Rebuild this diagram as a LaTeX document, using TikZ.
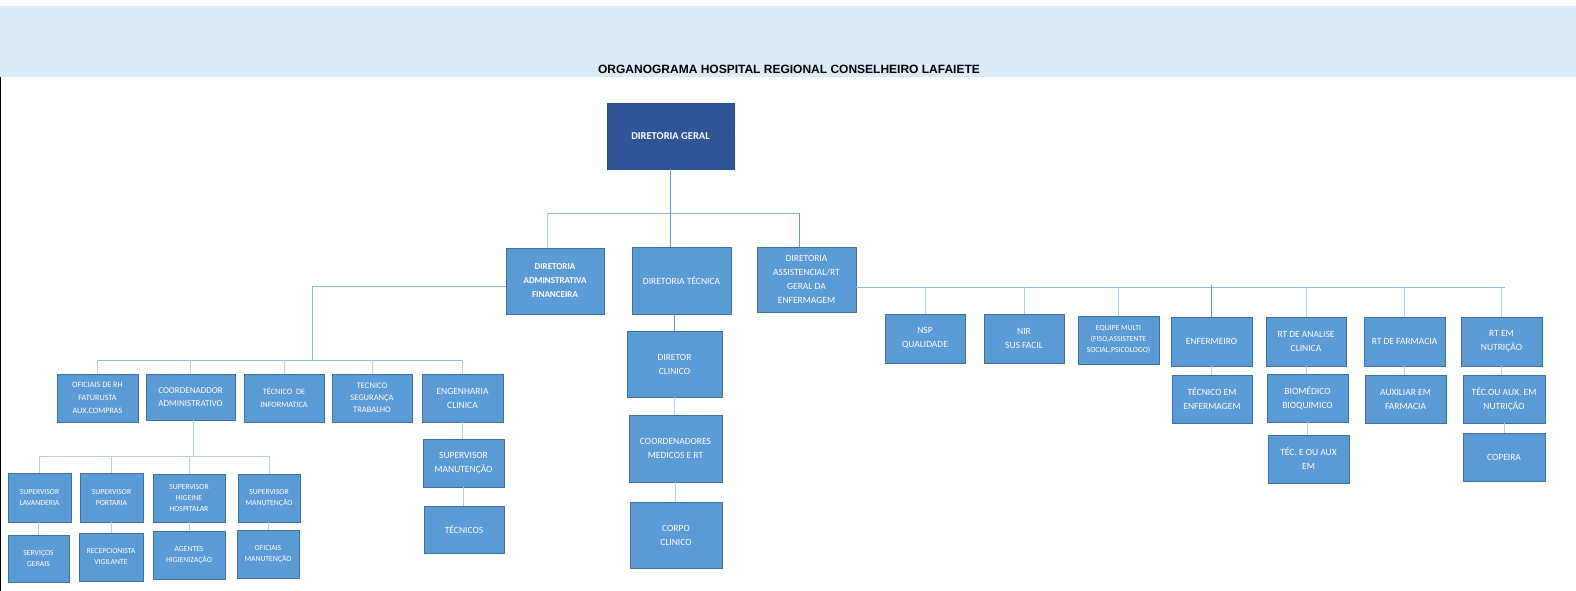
\documentclass[tikz,border=0pt]{standalone}
\usepackage{fontspec}
\setmainfont{Carlito}
\newfontfamily\arialfont{Liberation Sans}
\definecolor{caixaazul}{HTML}{5B9BD5}
\definecolor{bordaazul}{HTML}{41719C}
\definecolor{geralazul}{HTML}{2F5597}
\definecolor{geralborda}{HTML}{2E4D85}
\definecolor{faixaazul}{HTML}{DDEBF7}
\definecolor{linhaescura}{HTML}{5B9BD5}
\definecolor{linhamedia}{HTML}{8DB6E3}
\definecolor{linhaclara}{HTML}{B4D0EE}

\begin{document}
\begin{tikzpicture}[x=1pt,y=-1pt,
  caixa/.style={draw=bordaazul, fill=caixaazul, line width=0.9pt, text=white,
    align=center, inner sep=1pt, font=\fontsize{8.2}{13}\selectfont},
  grande/.style={font=\fontsize{9.5}{14}\selectfont},
  pequena/.style={font=\fontsize{7.7}{11}\selectfont},
  liga/.style={draw=linhaescura, line width=0.9pt},
  ligamedia/.style={draw=linhamedia, line width=0.9pt},
  ligafina/.style={draw=linhaclara, line width=0.9pt}]
\useasboundingbox (0,0) rectangle (1576,591);
\fill[faixaazul] (0,6) rectangle (1576,77);
\draw[black, line width=1.2pt] (0.6,77) -- (0.6,591);
\node[font=\arialfont\bfseries\fontsize{12}{14}\selectfont] (titulo) at (789,69.5)
  {ORGANOGRAMA HOSPITAL REGIONAL CONSELHEIRO LAFAIETE};

% diretorias
\node[caixa, fill=geralazul, draw=geralborda, minimum width=127pt, minimum height=66pt,
  font=\bfseries\fontsize{10.5}{12}\selectfont] (dg) at (670.5,136) {DIRETORIA GERAL};
\node[caixa, minimum width=98pt, minimum height=66pt,
  font=\bfseries\fontsize{9}{14}\selectfont] (adm) at (555,281) {DIRETORIA\\ADMINSTRATIVA\\FINANCEIRA};
\node[caixa, grande, minimum width=99pt, minimum height=67pt] (dt) at (681.5,280.5) {DIRETORIA T\'ECNICA};
\node[caixa, grande, minimum width=99pt, minimum height=65pt] (ass) at (806.5,279.5)
  {DIRETORIA\\ASSISTENCIAL/RT\\GERAL DA\\ENFERMAGEM};

% lado administrativo
\node[caixa, minimum width=81pt, minimum height=48pt] (ofic) at (97.5,398) {OFICIAIS DE RH\\FATURUSTA\\AUX.COMPRAS};
\node[caixa, font=\fontsize{9}{13}\selectfont, minimum width=89pt, minimum height=46pt] (coord) at (190.5,397) {COORDENADDOR\\ADMINISTRATIVO};
\node[caixa, minimum width=80pt, minimum height=48pt] (tinf) at (284,398) {T\'ECNICO~~DE\\INFORMATICA};
\node[caixa, font=\fontsize{8.5}{12}\selectfont, minimum width=80pt, minimum height=48pt] (tseg) at (372,398) {TECNICO\\SEGURAN\c{C}A\\TRABALHO};
\node[caixa, grande, minimum width=81pt, minimum height=48pt] (eng) at (462.5,398) {ENGENHARIA\\CLINICA};

\node[caixa, pequena, minimum width=63pt, minimum height=49pt] (slav) at (39.5,497.5) {SUPERVISOR\\LAVANDERIA};
\node[caixa, pequena, minimum width=63pt, minimum height=49pt] (sport) at (111.5,497.5) {SUPERVISOR\\PORTARIA};
\node[caixa, pequena, minimum width=72pt, minimum height=48pt] (shig) at (189,498) {SUPERVISOR\\HIGEINE\\HOSPITALAR};
\node[caixa, pequena, minimum width=62pt, minimum height=48pt] (sman) at (269,498) {SUPERVISOR\\MANUTEN\c{C}\~AO};

\node[caixa, pequena, minimum width=61pt, minimum height=47pt] (serv) at (38.5,558.5) {SERVI\c{C}OS\\GERAIS};
\node[caixa, pequena, minimum width=64pt, minimum height=48pt] (recep) at (111,557) {RECEPCIONISTA\\VIGILANTE};
\node[caixa, pequena, minimum width=72pt, minimum height=48pt] (agen) at (189,555) {AGENTES\\HIGIENIZA\c{C}\~AO};
\node[caixa, pequena, minimum width=62pt, minimum height=48pt] (ofman) at (268,554) {OFICIAIS\\MANUTEN\c{C}\~AO};

\node[caixa, grande, minimum width=81pt, minimum height=48pt] (supman) at (463.5,463) {SUPERVISOR\\MANUTEN\c{C}\~AO};
\node[caixa, grande, minimum width=80pt, minimum height=47pt] (tecn) at (464,529.5) {T\'ECNICOS};

% lado tecnico
\node[caixa, grande, minimum width=95pt, minimum height=66pt] (dc) at (674.5,364) {DIRETOR\\CLINICO};
\node[caixa, grande, minimum width=93pt, minimum height=67pt] (cmed) at (675.5,448.5) {COORDENADORES\\MEDICOS E RT};
\node[caixa, grande, minimum width=92pt, minimum height=66pt] (corpo) at (676,535) {CORPO\\CLINICO};

% lado assistencial
\node[caixa, grande, minimum width=80pt, minimum height=49pt] (nsp) at (925,338.5) {NSP\\QUALIDADE};
\node[caixa, grande, minimum width=80pt, minimum height=49pt] (nir) at (1024,338.5) {NIR\\SUS FACIL};
\node[caixa, pequena, minimum width=81pt, minimum height=48pt] (equipe) at (1118.5,340) {EQUIPE MULTI\\(FISO,ASSISTENTE\\SOCIAL,PSICOLOGO)};
\node[caixa, grande, minimum width=81pt, minimum height=49pt] (enf) at (1211.5,341.5) {ENFERMEIRO};
\node[caixa, grande, minimum width=80pt, minimum height=49pt] (rtan) at (1306,341.5) {RT DE ANALISE\\CLINICA};
\node[caixa, grande, minimum width=81pt, minimum height=49pt] (rtfar) at (1404.5,341.5) {RT DE FARMACIA};
\node[caixa, grande, minimum width=81pt, minimum height=49pt] (rtnut) at (1501.5,341.5) {RT EM\\NUTRI\c{C}\~AO};

\node[caixa, grande, minimum width=80pt, minimum height=48pt] (tenf) at (1212,399) {T\'ECNICO EM\\ENFERMAGEM};
\node[caixa, grande, minimum width=81pt, minimum height=48pt] (biom) at (1307.5,398) {BIOM\'EDICO\\BIOQUIMICO};
\node[caixa, grande, minimum width=81pt, minimum height=48pt] (auxf) at (1405.5,399) {AUXILIAR EM\\FARMACIA};
\node[caixa, grande, minimum width=82pt, minimum height=48pt] (tnut) at (1504,399) {T\'EC.OU AUX. EM\\NUTRI\c{C}\~AO};
\node[caixa, grande, minimum width=81pt, minimum height=48pt] (tecaux) at (1308.5,459) {T\'EC. E OU AUX\\EM};
\node[caixa, grande, minimum width=82pt, minimum height=48pt] (cope) at (1504,457) {COPEIRA};

% ligacoes da diretoria geral
\coordinate (barraA) at (547,213);
\coordinate (barraB) at (799,213);
\draw[liga] (dg.south) -- (dg.south |- dt.north);
\draw[ligamedia] (barraA) -- (barraB);
\draw[ligafina] (barraA) -- (barraA |- adm.north);
\draw[liga] (barraB) -- (barraB |- ass.north);

% administrativo
\coordinate (barraC) at (312,360);
\draw[ligamedia] ([yshift=-5pt]adm.west) -| (barraC);
\draw[ligamedia] (ofic.north |- barraC) -- (eng.north |- barraC);
\foreach \n in {ofic,coord,tinf,tseg,eng}
  \draw[ligafina] (\n.north |- barraC) -- (\n.north);
\coordinate (barraD) at (193,456);
\draw[ligafina] (coord.south -| barraD) -- (barraD);
\draw[ligafina] (slav.north |- barraD) -- (sman.north |- barraD);
\foreach \n in {slav,sport,shig,sman}
  \draw[ligafina] (\n.north |- barraD) -- (\n.north);
\draw[ligafina] (slav.south -| serv.north) -- (serv.north);
\draw[ligafina] (recep.north |- sport.south) -- (recep.north);
\draw[ligafina] (shig.south) -- (agen.north);
\draw[ligafina] (ofman.north |- sman.south) -- (ofman.north);
\draw[ligafina] (eng.south) -- (eng.south |- supman.north);
\draw[ligafina] (supman.south) -- (supman.south |- tecn.north);

% tecnico
\draw[liga] (dc.north |- dt.south) -- (dc.north);
\draw[ligafina] (dc.south) -- (dc.south |- cmed.north);
\draw[ligafina] (cmed.south) -- (cmed.south |- corpo.north);

% assistencial
\coordinate (barraE) at (1505,287);
\draw[ligamedia] (ass.east |- barraE) -- (barraE);
\foreach \n in {nsp,nir,equipe,rtan,rtfar,rtnut}
  \draw[ligafina] (\n.north |- barraE) -- (\n.north);
\draw[liga] ([yshift=2pt]enf.north |- barraE) -- (enf.north);
\draw[ligafina] (enf.south) -- (enf.south |- tenf.north);
\draw[ligafina] (rtan.south) -- (rtan.south |- biom.north);
\draw[ligafina] (biom.south) -- (biom.south |- tecaux.north);
\draw[ligafina] (rtfar.south) -- (rtfar.south |- auxf.north);
\draw[ligafina] (rtnut.south) -- (rtnut.south |- tnut.north);
\draw[ligafina] (tnut.south) -- (tnut.south |- cope.north);
\end{tikzpicture}
\end{document}
